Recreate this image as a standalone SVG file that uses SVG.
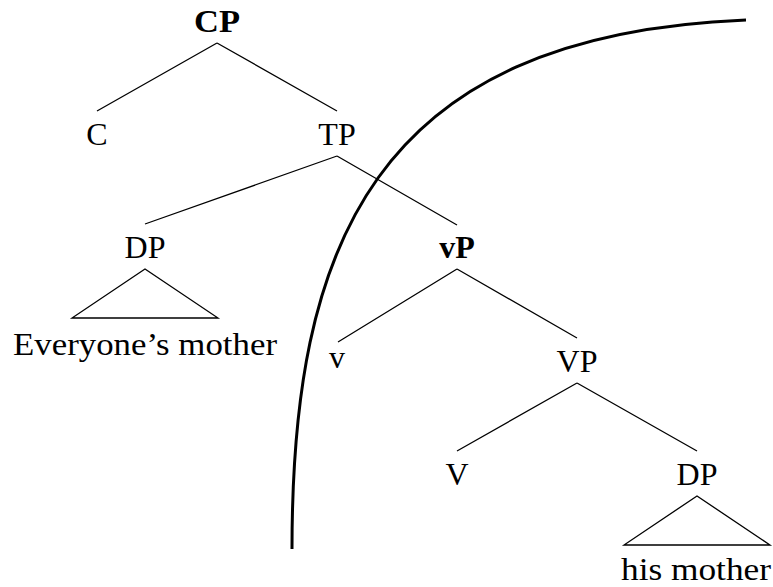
<svg xmlns="http://www.w3.org/2000/svg" width="773" height="587" viewBox="0 0 773 587">
<style>
text{font-family:"Liberation Serif","Times New Roman",serif;font-size:32px;fill:#000;text-anchor:middle}
.b{font-weight:bold}
.e{stroke:#000;stroke-width:1.3;fill:none}
</style>
<rect width="773" height="587" fill="#fff"/>
<g id="CP"><text class="b" x="217" y="32" textLength="46" lengthAdjust="spacingAndGlyphs">CP</text></g>
<g id="C"><text x="97" y="145">C</text></g>
<g id="TP"><text x="337" y="145">TP</text></g>
<g id="DP1"><text x="145" y="258">DP</text></g>
<g id="vP"><text class="b" x="457" y="258">vP</text></g>
<g id="everyone"><polygon class="e" points="145,269 72,318 218,318"/><text x="145" y="355" textLength="264" lengthAdjust="spacingAndGlyphs">Everyone’s mother</text></g>
<g id="v"><text x="337" y="368">v</text></g>
<g id="VP"><text x="577" y="372">VP</text></g>
<g id="V"><text x="457" y="485">V</text></g>
<g id="DP2"><text x="697" y="485">DP</text></g>
<g id="his"><polygon class="e" points="697,496 624,545 770,545"/><text x="696" y="580" textLength="150" lengthAdjust="spacingAndGlyphs">his mother</text></g>
<g id="connectors">
<path class="e" d="M217,43 L97,111 M217,43 L337,111 M337,156 L145,224 M337,156 L457,225 M457,269 L338,342 M457,269 L577,338 M577,383 L457,451 M577,383 L697,451"/>
<path d="M292,549 C292,250 370,35 746,20" stroke="#000" stroke-width="3" fill="none"/>
</g>
</svg>
